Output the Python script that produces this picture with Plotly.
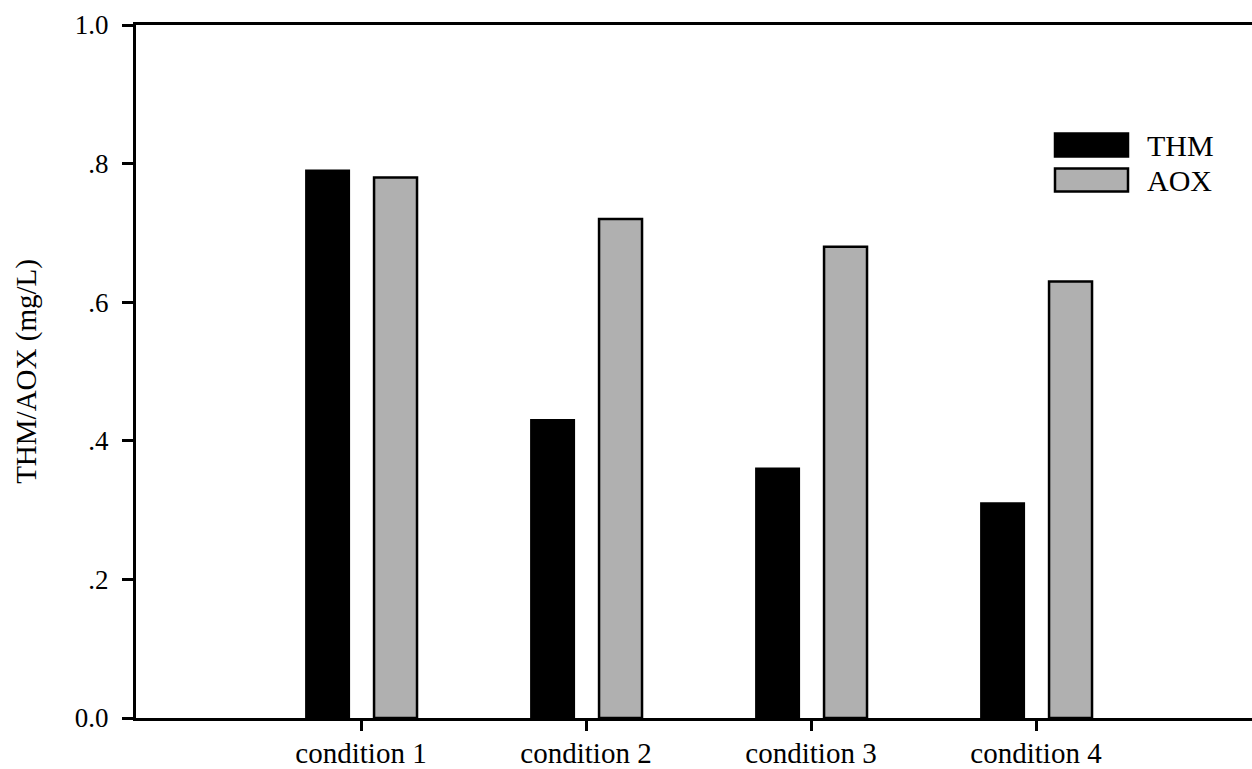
import plotly.graph_objects as go

categories = ["condition 1", "condition 2", "condition 3", "condition 4"]
thm = [0.79, 0.43, 0.36, 0.31]
aox = [0.78, 0.72, 0.68, 0.63]
series_names = ["THM", "AOX"]
ytick_vals = [0.0, 0.2, 0.4, 0.6, 0.8, 1.0]
ytick_text = ["0.0", ".2", ".4", ".6", ".8", "1.0"]
y_title = "THM/AOX (mg/L)"

FONT = "Liberation Serif, Times New Roman, serif"
colors = ["#000000", "#b0b0b0"]

fig = go.Figure()
fig.add_trace(go.Bar(x=categories, y=thm, name=series_names[0],
                     marker=dict(color=colors[0], line=dict(color="black", width=2)),
                     width=0.191, offset=-0.244, showlegend=False))
fig.add_trace(go.Bar(x=categories, y=aox, name=series_names[1],
                     marker=dict(color=colors[1], line=dict(color="black", width=2.5)),
                     width=0.191, offset=0.058, showlegend=False))

# custom legend (wide swatches like the original)
leg_y = [145, 180]
for i, name in enumerate(series_names):
    yc = 1 - (leg_y[i] - 25) / 693
    fig.add_shape(type="rect", xref="paper", yref="paper",
                  x0=(1055 - 136) / 1116, x1=(1128 - 136) / 1116,
                  y0=yc - 11.5 / 693, y1=yc + 11.5 / 693,
                  fillcolor=colors[i], line=dict(color="black", width=2.5))
    fig.add_annotation(xref="paper", yref="paper", x=(1145 - 136) / 1116, y=yc,
                       text=name, showarrow=False, xanchor="left", yanchor="middle",
                       font=dict(family=FONT, size=30, color="black"))

fig.update_layout(
    width=1252, height=769,
    margin=dict(l=136, r=0, t=25, b=51),
    paper_bgcolor="white", plot_bgcolor="white",
    barmode="overlay",
    font=dict(family=FONT, color="black"),
)
fig.update_xaxes(type="category", range=[-1, 3.96], showgrid=False, automargin=False,
                 showline=True, linecolor="black", linewidth=3, mirror=True,
                 ticks="outside", ticklen=10, tickwidth=2.5, tickcolor="black",
                 ticklabelstandoff=-3,
                 tickfont=dict(family=FONT, size=29, color="black"), zeroline=False)
fig.update_yaxes(range=[0, 1.0], showgrid=False, zeroline=False, automargin=False,
                 showline=True, linecolor="black", linewidth=3,
                 ticks="outside", ticklen=11, tickwidth=2.5, tickcolor="black",
                 tickvals=ytick_vals, ticktext=ytick_text, ticklabelstandoff=8,
                 tickfont=dict(family=FONT, size=27, color="black"),
                 title=dict(text=y_title, font=dict(family=FONT, size=29, color="black"),
                            standoff=30))

fig.write_html("out.html")
